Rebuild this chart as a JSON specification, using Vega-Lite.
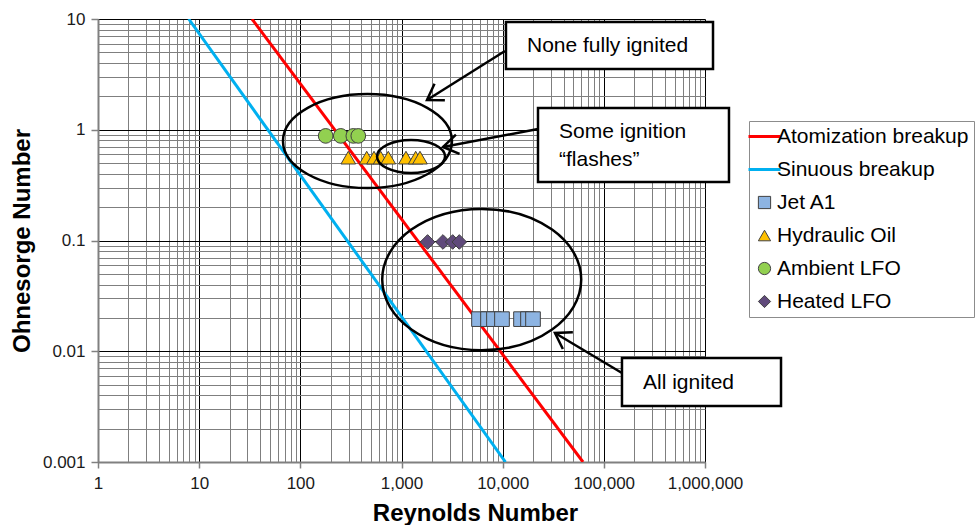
{
  "$schema": "https://vega.github.io/schema/vega-lite/v6.json",
  "width": 607,
  "height": 443,
  "autosize": "none",
  "padding": {"left": 98, "top": 19, "right": 271, "bottom": 63},
  "background": "white",
  "config": {
    "view": {"stroke": null},
    "font": "Liberation Sans",
    "legend": {
      "labelFont": "Liberation Sans",
      "labelFontSize": 21,
      "labelColor": "#000000",
      "labelOffset": 2,
      "labelLimit": 400,
      "symbolSize": 1024,
      "symbolOffset": 0,
      "padding": 5,
      "rowPadding": 11,
      "strokeColor": "#8c8c8c",
      "fillColor": "white"
    }
  },
  "datasets": {
    "lines": [
      {"series": "Atomization breakup", "Re": 33.3, "Oh": 10},
      {"series": "Atomization breakup", "Re": 62200, "Oh": 0.001},
      {"series": "Sinuous breakup", "Re": 7.88, "Oh": 10},
      {"series": "Sinuous breakup", "Re": 10660, "Oh": 0.001}
    ],
    "points": [
      {"series": "Jet A1", "Re": 5834, "Oh": 0.0195},
      {"series": "Jet A1", "Re": 7161, "Oh": 0.0195},
      {"series": "Jet A1", "Re": 8207, "Oh": 0.0195},
      {"series": "Jet A1", "Re": 9846, "Oh": 0.0195},
      {"series": "Jet A1", "Re": 15180, "Oh": 0.0195},
      {"series": "Jet A1", "Re": 17800, "Oh": 0.0195},
      {"series": "Jet A1", "Re": 19950, "Oh": 0.0195},
      {"series": "Hydraulic Oil", "Re": 298, "Oh": 0.56},
      {"series": "Hydraulic Oil", "Re": 453, "Oh": 0.56},
      {"series": "Hydraulic Oil", "Re": 535, "Oh": 0.56},
      {"series": "Hydraulic Oil", "Re": 623, "Oh": 0.56},
      {"series": "Hydraulic Oil", "Re": 740, "Oh": 0.56},
      {"series": "Hydraulic Oil", "Re": 1107, "Oh": 0.56},
      {"series": "Hydraulic Oil", "Re": 1381, "Oh": 0.56},
      {"series": "Hydraulic Oil", "Re": 1523, "Oh": 0.56},
      {"series": "Ambient LFO", "Re": 178, "Oh": 0.88},
      {"series": "Ambient LFO", "Re": 251, "Oh": 0.88},
      {"series": "Ambient LFO", "Re": 334, "Oh": 0.88},
      {"series": "Ambient LFO", "Re": 374, "Oh": 0.88},
      {"series": "Heated LFO", "Re": 1810, "Oh": 0.097},
      {"series": "Heated LFO", "Re": 2570, "Oh": 0.097},
      {"series": "Heated LFO", "Re": 3206, "Oh": 0.097},
      {"series": "Heated LFO", "Re": 3727, "Oh": 0.097}
    ],
    "ellipses": [
      {"name": "upper", "Re": 461, "Oh": 0.791},
      {"name": "small", "Re": 1242, "Oh": 0.5735},
      {"name": "lower", "Re": 6207, "Oh": 0.0444}
    ],
    "arrows": [
      {"name": "a1", "Re1": 10540, "Oh1": 5.14, "Re2": 1786, "Oh2": 1.856},
      {"name": "a2", "Re1": 22350, "Oh1": 1.016, "Re2": 2571, "Oh2": 0.6985},
      {"name": "a3", "Re1": 151100, "Oh1": 0.00636, "Re2": 32890, "Oh2": 0.01462}
    ],
    "boxes": [
      {"name": "b1", "Re1": 10780, "Re2": 1200000, "Oh1": 9.4, "Oh2": 3.54},
      {"name": "b2", "Re1": 22350, "Re2": 1726000, "Oh1": 1.572, "Oh2": 0.3374},
      {"name": "b3", "Re1": 151100, "Re2": 5640000, "Oh1": 0.00869, "Oh2": 0.0032}
    ],
    "labels": [
      {"text": "None fully ignited", "Re": 17390, "Oh": 5.71},
      {"text": "Some ignition", "Re": 36060, "Oh": 0.954},
      {"text": "\u201cflashes\u201d", "Re": 36060, "Oh": 0.533},
      {"text": "All ignited", "Re": 243800, "Oh": 0.00517}
    ]
  },
  "layer": [
    {
      "data": {"name": "lines"},
      "mark": {"type": "line", "strokeWidth": 3, "clip": true},
      "encoding": {
        "x": {
          "field": "Re", "type": "quantitative",
          "scale": {"type": "log", "domain": [1, 1000000], "nice": false},
          "axis": {
            "values": [1,2,3,4,5,6,7,8,9,10,20,30,40,50,60,70,80,90,100,200,300,400,500,600,700,800,900,1000,2000,3000,4000,5000,6000,7000,8000,9000,10000,20000,30000,40000,50000,60000,70000,80000,90000,100000,200000,300000,400000,500000,600000,700000,800000,900000,1000000],
            "labelExpr": "indexof([1,10,100,1000,10000,100000,1000000], datum.value) >= 0 ? format(datum.value, ',') : ''",
            "grid": true,
            "gridColor": {"condition": {"test": "indexof([1,10,100,1000,10000,100000,1000000], datum.value) >= 0", "value": "#000000"}, "value": "#7f7f7f"},
            "gridWidth": 1,
            "tickOpacity": {"condition": {"test": "indexof([1,10,100,1000,10000,100000,1000000], datum.value) >= 0", "value": 1}, "value": 0},
            "tickSize": 6,
            "tickColor": "#808080",
            "tickWidth": 1.5,
            "domainColor": "#808080",
            "domainWidth": 2,
            "labelFont": "Liberation Sans",
            "labelFontSize": 17,
            "labelColor": "#1a1a1a",
            "labelPadding": 7,
            "labelFlush": false,
            "labelOverlap": false,
            "labelBound": false,
            "title": "Reynolds Number",
            "titleFont": "Liberation Sans",
            "titleFontSize": 24,
            "titleFontWeight": "bold",
            "titleColor": "#000000",
            "titleX": 377,
            "titleAlign": "center",
            "titlePadding": 10
          }
        },
        "y": {
          "field": "Oh", "type": "quantitative",
          "scale": {"type": "log", "domain": [0.001, 10], "nice": false},
          "axis": {
            "values": [0.001,0.002,0.003,0.004,0.005,0.006,0.007,0.008,0.009,0.01,0.02,0.03,0.04,0.05,0.06,0.07,0.08,0.09,0.1,0.2,0.3,0.4,0.5,0.6,0.7,0.8,0.9,1,2,3,4,5,6,7,8,9,10],
            "labelExpr": "indexof([0.001,0.01,0.1,1,10], datum.value) >= 0 ? format(datum.value, '~g') : ''",
            "grid": true,
            "gridColor": {"condition": {"test": "indexof([0.001,0.01,0.1,1,10], datum.value) >= 0", "value": "#000000"}, "value": "#7f7f7f"},
            "gridWidth": 1,
            "tickOpacity": {"condition": {"test": "indexof([0.001,0.01,0.1,1,10], datum.value) >= 0", "value": 1}, "value": 0},
            "tickSize": 7,
            "tickColor": "#808080",
            "tickWidth": 1.5,
            "domainColor": "#808080",
            "domainWidth": 2,
            "labelFont": "Liberation Sans",
            "labelFontSize": 17,
            "labelColor": "#1a1a1a",
            "labelPadding": 6,
            "labelFlush": false,
            "labelOverlap": false,
            "labelBound": false,
            "title": "Ohnesorge Number",
            "titleFont": "Liberation Sans",
            "titleFontSize": 24,
            "titleFontWeight": "bold",
            "titleColor": "#000000",
            "titlePadding": 8
          }
        },
        "detail": {"field": "series"},
        "stroke": {
          "field": "series", "type": "nominal",
          "scale": {
            "domain": ["Atomization breakup", "Sinuous breakup", "Jet A1", "Hydraulic Oil", "Ambient LFO", "Heated LFO"],
            "range": ["#ff0000", "#00b0f0", "#404040", "#404040", "#404040", "#404040"]
          },
          "legend": {
            "title": null, "orient": "none", "legendX": 651, "legendY": 102,
            "encode": {"symbols": {"update": {
              "size": {"signal": "datum.value === 'Atomization breakup' || datum.value === 'Sinuous breakup' ? 1024 : 150"},
              "strokeWidth": {"signal": "datum.value === 'Atomization breakup' || datum.value === 'Sinuous breakup' ? 3 : 1"}
            }}}
          }
        }
      }
    },
    {
      "data": {"name": "points"},
      "mark": {"type": "point", "filled": true, "size": 215, "strokeWidth": 1, "opacity": 1},
      "encoding": {
        "x": {"field": "Re", "type": "quantitative", "scale": {"type": "log", "domain": [1, 1000000], "nice": false}},
        "y": {"field": "Oh", "type": "quantitative", "scale": {"type": "log", "domain": [0.001, 10], "nice": false}},
        "stroke": {
          "field": "series", "type": "nominal",
          "scale": {
            "domain": ["Atomization breakup", "Sinuous breakup", "Jet A1", "Hydraulic Oil", "Ambient LFO", "Heated LFO"],
            "range": ["#ff0000", "#00b0f0", "#404040", "#404040", "#404040", "#404040"]
          },
          "legend": {
            "title": null, "orient": "none", "legendX": 651, "legendY": 102,
            "encode": {"symbols": {"update": {
              "size": {"signal": "datum.value === 'Atomization breakup' || datum.value === 'Sinuous breakup' ? 1024 : 150"},
              "strokeWidth": {"signal": "datum.value === 'Atomization breakup' || datum.value === 'Sinuous breakup' ? 3 : 1"}
            }}}
          }
        },
        "fill": {
          "field": "series", "type": "nominal",
          "scale": {
            "domain": ["Atomization breakup", "Sinuous breakup", "Jet A1", "Hydraulic Oil", "Ambient LFO", "Heated LFO"],
            "range": ["transparent", "transparent", "#8db4e2", "#ffc000", "#92d050", "#604a7b"]
          },
          "legend": {
            "title": null, "orient": "none", "legendX": 651, "legendY": 102,
            "encode": {"symbols": {"update": {
              "size": {"signal": "datum.value === 'Atomization breakup' || datum.value === 'Sinuous breakup' ? 1024 : 150"},
              "strokeWidth": {"signal": "datum.value === 'Atomization breakup' || datum.value === 'Sinuous breakup' ? 3 : 1"}
            }}}
          }
        },
        "shape": {
          "field": "series", "type": "nominal",
          "scale": {
            "domain": ["Atomization breakup", "Sinuous breakup", "Jet A1", "Hydraulic Oil", "Ambient LFO", "Heated LFO"],
            "range": ["stroke", "stroke", "square", "triangle-up", "circle", "diamond"]
          },
          "legend": {
            "title": null, "orient": "none", "legendX": 651, "legendY": 102,
            "encode": {"symbols": {"update": {
              "size": {"signal": "datum.value === 'Atomization breakup' || datum.value === 'Sinuous breakup' ? 1024 : 150"},
              "strokeWidth": {"signal": "datum.value === 'Atomization breakup' || datum.value === 'Sinuous breakup' ? 3 : 1"}
            }}}
          }
        }
      }
    },
    {
      "data": {"name": "ellipses"},
      "transform": [{"filter": "datum.name === 'upper'"}],
      "mark": {"type": "point", "filled": false, "stroke": "#000000", "strokeWidth": 2.5, "opacity": 1, "size": 28561,
        "shape": "M 1 0 C 1 0.307 0.552 0.556 0 0.556 C -0.552 0.556 -1 0.307 -1 0 C -1 -0.307 -0.552 -0.556 0 -0.556 C 0.552 -0.556 1 -0.307 1 0 Z"},
      "encoding": {
        "x": {"field": "Re", "type": "quantitative", "scale": {"type": "log", "domain": [1, 1000000], "nice": false}},
        "y": {"field": "Oh", "type": "quantitative", "scale": {"type": "log", "domain": [0.001, 10], "nice": false}}
      }
    },
    {
      "data": {"name": "ellipses"},
      "transform": [{"filter": "datum.name === 'small'"}],
      "mark": {"type": "point", "filled": false, "stroke": "#000000", "strokeWidth": 2.5, "opacity": 1, "size": 4624,
        "shape": "M 1 0 C 1 0.268 0.552 0.485 0 0.485 C -0.552 0.485 -1 0.268 -1 0 C -1 -0.268 -0.552 -0.485 0 -0.485 C 0.552 -0.485 1 -0.268 1 0 Z"},
      "encoding": {
        "x": {"field": "Re", "type": "quantitative", "scale": {"type": "log", "domain": [1, 1000000], "nice": false}},
        "y": {"field": "Oh", "type": "quantitative", "scale": {"type": "log", "domain": [0.001, 10], "nice": false}}
      }
    },
    {
      "data": {"name": "ellipses"},
      "transform": [{"filter": "datum.name === 'lower'"}],
      "mark": {"type": "point", "filled": false, "stroke": "#000000", "strokeWidth": 2.5, "opacity": 1, "size": 39601,
        "shape": "M 1 0 C 1 0.392 0.552 0.71 0 0.71 C -0.552 0.71 -1 0.392 -1 0 C -1 -0.392 -0.552 -0.71 0 -0.71 C 0.552 -0.71 1 -0.392 1 0 Z"},
      "encoding": {
        "x": {"field": "Re", "type": "quantitative", "scale": {"type": "log", "domain": [1, 1000000], "nice": false}},
        "y": {"field": "Oh", "type": "quantitative", "scale": {"type": "log", "domain": [0.001, 10], "nice": false}}
      }
    },
    {
      "data": {"name": "arrows"},
      "mark": {"type": "rule", "stroke": "#000000", "strokeWidth": 2.5},
      "encoding": {
        "x": {"field": "Re1", "type": "quantitative", "scale": {"type": "log", "domain": [1, 1000000], "nice": false}},
        "y": {"field": "Oh1", "type": "quantitative", "scale": {"type": "log", "domain": [0.001, 10], "nice": false}},
        "x2": {"field": "Re2"},
        "y2": {"field": "Oh2"}
      }
    },
    {
      "data": {"name": "arrows"},
      "transform": [{"filter": "datum.name === 'a1'"}],
      "mark": {"type": "point", "filled": false, "stroke": "#000000", "strokeWidth": 2.5, "opacity": 1, "size": 900, "angle": 147.9,
        "shape": "M -1 -0.65 L 0 0 L -1 0.65"},
      "encoding": {
        "x": {"field": "Re2", "type": "quantitative", "scale": {"type": "log", "domain": [1, 1000000], "nice": false}},
        "y": {"field": "Oh2", "type": "quantitative", "scale": {"type": "log", "domain": [0.001, 10], "nice": false}}
      }
    },
    {
      "data": {"name": "arrows"},
      "transform": [{"filter": "datum.name === 'a2'"}],
      "mark": {"type": "point", "filled": false, "stroke": "#000000", "strokeWidth": 2.5, "opacity": 1, "size": 900, "angle": 169.3,
        "shape": "M -1 -0.65 L 0 0 L -1 0.65"},
      "encoding": {
        "x": {"field": "Re2", "type": "quantitative", "scale": {"type": "log", "domain": [1, 1000000], "nice": false}},
        "y": {"field": "Oh2", "type": "quantitative", "scale": {"type": "log", "domain": [0.001, 10], "nice": false}}
      }
    },
    {
      "data": {"name": "arrows"},
      "transform": [{"filter": "datum.name === 'a3'"}],
      "mark": {"type": "point", "filled": false, "stroke": "#000000", "strokeWidth": 2.5, "opacity": 1, "size": 900, "angle": 210.8,
        "shape": "M -1 -0.65 L 0 0 L -1 0.65"},
      "encoding": {
        "x": {"field": "Re2", "type": "quantitative", "scale": {"type": "log", "domain": [1, 1000000], "nice": false}},
        "y": {"field": "Oh2", "type": "quantitative", "scale": {"type": "log", "domain": [0.001, 10], "nice": false}}
      }
    },
    {
      "data": {"name": "boxes"},
      "mark": {"type": "rect", "fill": "#ffffff", "stroke": "#000000", "strokeWidth": 2.5},
      "encoding": {
        "x": {"field": "Re1", "type": "quantitative", "scale": {"type": "log", "domain": [1, 1000000], "nice": false}},
        "x2": {"field": "Re2"},
        "y": {"field": "Oh1", "type": "quantitative", "scale": {"type": "log", "domain": [0.001, 10], "nice": false}},
        "y2": {"field": "Oh2"}
      }
    },
    {
      "data": {"name": "labels"},
      "mark": {"type": "text", "align": "left", "baseline": "middle", "font": "Liberation Sans", "fontSize": 21, "color": "#000000"},
      "encoding": {
        "x": {"field": "Re", "type": "quantitative", "scale": {"type": "log", "domain": [1, 1000000], "nice": false}},
        "y": {"field": "Oh", "type": "quantitative", "scale": {"type": "log", "domain": [0.001, 10], "nice": false}},
        "text": {"field": "text"}
      }
    }
  ]
}
